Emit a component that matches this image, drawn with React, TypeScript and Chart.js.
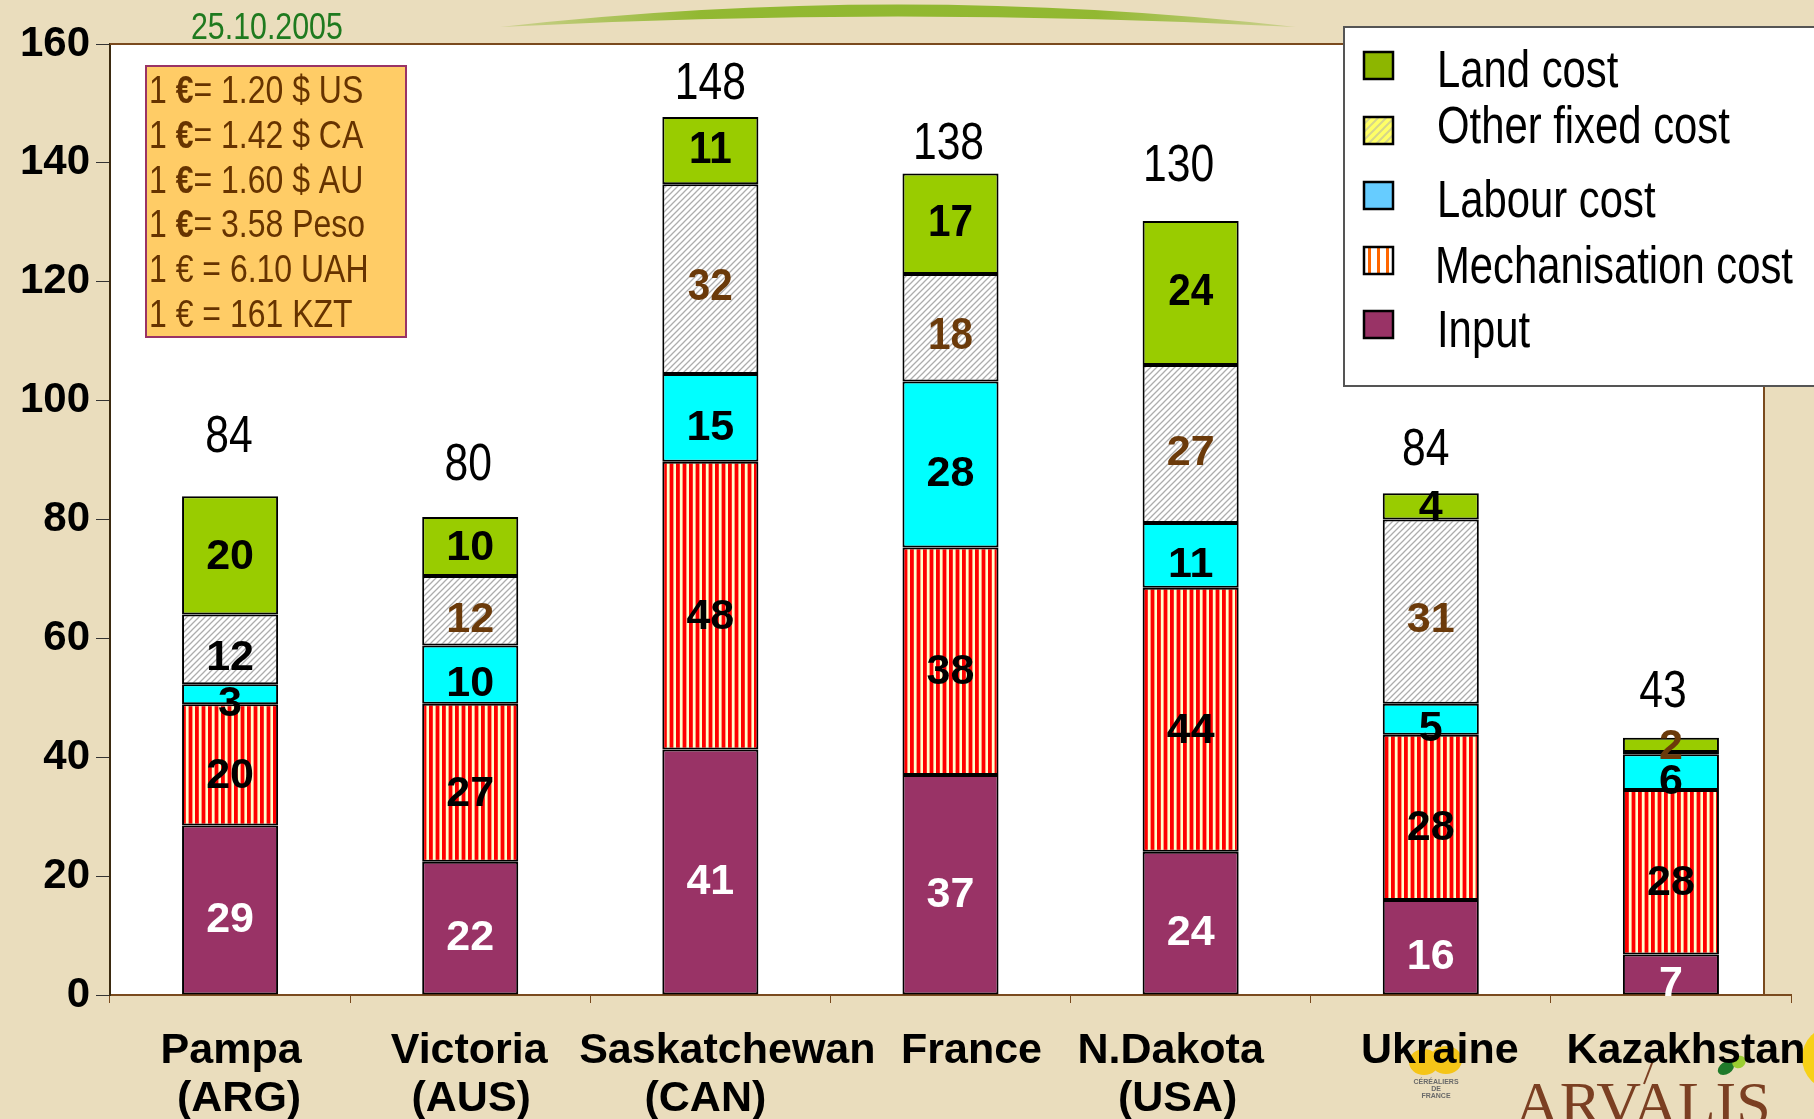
import React, { useEffect, useRef } from "react";
import { Chart, registerables } from "chart.js";

Chart.register(...registerables);

// ---------------- DATA ----------------
const categories: string[][] = [
  ["Pampa", "(ARG)"],
  ["Victoria", "(AUS)"],
  ["Saskatchewan", "(CAN)"],
  ["France"],
  ["N.Dakota", "(USA)"],
  ["Ukraine"],
  ["Kazakhstan"],
];
const inputCost = [28.5, 22.4, 41.3, 37.0, 24.1, 16.0, 6.8];
const mechanisationCost = [20.4, 26.6, 48.4, 38.3, 44.4, 27.8, 27.7];
const labourCost = [3.4, 9.8, 14.8, 27.9, 10.9, 5.2, 6.0];
const otherFixedCost = [11.7, 11.7, 31.9, 18.1, 26.6, 31.0, 0.4];
const landCost = [19.9, 9.9, 11.3, 16.9, 24.2, 4.4, 2.4];
const totalLabels = ["84", "80", "148", "138", "130", "84", "43"];
const seriesNames = ["Input", "Mechanisation cost", "Labour cost", "Other fixed cost", "Land cost"];
const legendOrder = ["Land cost", "Other fixed cost", "Labour cost", "Mechanisation cost", "Input"];
const yMin = 0;
const yMax = 160;
const yStep = 20;
const dateLabel = "25.10.2005";
const exchangeRates = [
  { text: "1 €= 1.20 $ US", boldEuro: true },
  { text: "1 €= 1.42 $ CA", boldEuro: true },
  { text: "1 €= 1.60 $ AU", boldEuro: true },
  { text: "1 €= 3.58 Peso", boldEuro: true },
  { text: "1 € = 6.10 UAH", boldEuro: false },
  { text: "1 € = 161 KZT", boldEuro: false },
];

// ---------------- STYLE / LAYOUT ----------------
const W = 1814;
const H = 1119;
const SANS = '"Liberation Sans", Arial, sans-serif';
const NARROW_SCALE = 0.82;
const BEIGE = "#EADDBD";
const BROWN_LINE = "#7A4A1E";
const LABEL_BROWN = "#6B3A0A";
// vertical nudge of segment labels per dataset (input, mech, labour, other, land)
const segLabelDy = [10, 11, 10, 9, 2];
// per-bar placement of total labels: [dx, distance above bar top]
const totalLabelPlacement = [
  [-1, 59], [-2, 51], [0, 32], [-2, 29], [-12, 54], [-5, 43], [-8, 45],
];
// per-category x shift of the category label lines [line1, line2]
const categoryLabelShift = [
  [1, 9], [-1, 1], [17, -5], [21, 0], [-20, -13], [9, 0], [15, 0],
];

function fillNarrow(
  ctx: CanvasRenderingContext2D,
  text: string,
  x: number,
  y: number,
  font: string,
  align: CanvasTextAlign,
  sx: number = NARROW_SCALE
) {
  ctx.save();
  ctx.font = font;
  ctx.textAlign = align;
  ctx.translate(x, y);
  ctx.scale(sx, 1);
  ctx.fillText(text, 0, 0);
  ctx.restore();
}
function narrowWidth(ctx: CanvasRenderingContext2D, text: string, font: string) {
  ctx.save();
  ctx.font = font;
  const w = ctx.measureText(text).width * NARROW_SCALE;
  ctx.restore();
  return w;
}

function stripePattern(c1: string, w1: number, c2: string, w2: number, reps: number) {
  const period = w1 + w2;
  const cv = document.createElement("canvas");
  cv.width = Math.round(period * reps);
  cv.height = 4;
  const g = cv.getContext("2d")!;
  g.fillStyle = c2;
  g.fillRect(0, 0, cv.width, 4);
  g.fillStyle = c1;
  for (let k = 0; k < reps; k++) g.fillRect(k * period, 0, w1, 4);
  return g.createPattern(cv, "repeat")!;
}

function hatchPattern(bg: string, line: string, size: number, lw: number) {
  const cv = document.createElement("canvas");
  cv.width = size;
  cv.height = size;
  const g = cv.getContext("2d")!;
  g.fillStyle = bg;
  g.fillRect(0, 0, size, size);
  g.strokeStyle = line;
  g.lineWidth = lw;
  g.beginPath();
  g.moveTo(-1, size + 1);
  g.lineTo(size + 1, -1);
  g.moveTo(-1, 1);
  g.lineTo(1, -1);
  g.moveTo(size - 1, size + 1);
  g.lineTo(size + 1, size - 1);
  g.stroke();
  return g.createPattern(cv, "repeat")!;
}

function segLabelColor(di: number, i: number) {
  if (di === 0) return "#FFFFFF";
  if (di === 3) return i === 0 ? "#000000" : LABEL_BROWN;
  if (di === 4) return i === 6 ? LABEL_BROWN : "#000000";
  return "#000000";
}
function segLabelNarrow(di: number, i: number) {
  if (di === 4) return i >= 2 && i <= 4;
  if (di === 3) return i === 2 || i === 3;
  return false;
}

export default function App() {
  const ref = useRef<HTMLCanvasElement>(null);

  useEffect(() => {
    document.body.style.margin = "0";
    document.body.style.overflow = "hidden";
    const canvas = ref.current!;

    const mechPat = stripePattern("#FF0000", 3.8, "#FFFFCC", 2.8, 2);
    const otherPat = hatchPattern("#FFFFFF", "#ADADAD", 6, 1.3);
    const legendOtherPat = hatchPattern("#FFFF66", "#D6D68A", 8, 2);
    const legendMechPat = stripePattern("#FF6600", 3, "#FFFFFF", 6, 1);

    const fills = ["#993366", mechPat, "#00FFFF", otherPat, "#99CC00"];
    const values = [inputCost, mechanisationCost, labourCost, otherFixedCost, landCost];
    const legendFills: Record<string, any> = {
      "Land cost": "#8DB600",
      "Other fixed cost": legendOtherPat,
      "Labour cost": "#66CCFF",
      "Mechanisation cost": legendMechPat,
      Input: "#993366",
    };

    const decorPlugin = {
      id: "decor",
      beforeDraw(chart: any) {
        const ctx = chart.ctx as CanvasRenderingContext2D;
        const ca = chart.chartArea;
        ctx.save();
        ctx.fillStyle = BEIGE;
        ctx.fillRect(0, 0, W, H);
        ctx.fillStyle = "#FFFFFF";
        ctx.fillRect(ca.left, ca.top, ca.right - 27 - ca.left, ca.bottom - ca.top);

        // logos at bottom right
        ctx.fillStyle = "#F5C518";
        ctx.beginPath();
        ctx.ellipse(1424, 1062, 15, 13, 0, 0, Math.PI * 2);
        ctx.ellipse(1446, 1060, 16, 14, 0, 0, Math.PI * 2);
        ctx.fill();
        ctx.fillStyle = "#6a6a6a";
        ctx.font = `bold 7px ${SANS}`;
        ctx.textAlign = "center";
        ctx.fillText("CÉRÉALIERS", 1436, 1084);
        ctx.fillText("DE", 1436, 1091);
        ctx.fillText("FRANCE", 1436, 1098);

        ctx.fillStyle = "#7B3F22";
        ctx.font = `62px "Liberation Serif", serif`;
        ctx.textAlign = "left";
        ctx.textBaseline = "alphabetic";
        ctx.fillText("ARVALIS", 1515, 1124);
        ctx.strokeStyle = "#7B3F22";
        ctx.lineWidth = 2;
        ctx.beginPath();
        ctx.moveTo(1644, 1084);
        ctx.lineTo(1654, 1058);
        ctx.stroke();
        ctx.fillStyle = "#1F7A2A";
        ctx.beginPath();
        ctx.ellipse(1726, 1068, 9, 6, -0.6, 0, Math.PI * 2);
        ctx.fill();
        ctx.fillStyle = "#9ACD32";
        ctx.beginPath();
        ctx.ellipse(1739, 1062, 7, 6, -0.6, 0, Math.PI * 2);
        ctx.fill();
        ctx.fillStyle = "#F7D117";
        ctx.beginPath();
        ctx.arc(1834, 1058, 32, 0, Math.PI * 2);
        ctx.fill();
        ctx.restore();
      },
      afterDatasetsDraw(chart: any) {
        const ctx = chart.ctx as CanvasRenderingContext2D;
        ctx.save();
        ctx.textBaseline = "middle";
        chart.data.datasets.forEach((ds: any, di: number) => {
          const meta = chart.getDatasetMeta(di);
          meta.data.forEach((bar: any, i: number) => {
            const v = ds.data[i] as number;
            if (v < 1) return;
            const p = bar.getProps(["x", "y", "base"], true);
            const narrow = segLabelNarrow(di, i);
            const dy = narrow && di === 4 ? 0 : segLabelDy[di];
            const cy = (p.y + p.base) / 2 + dy;
            ctx.fillStyle = segLabelColor(di, i);
            if (narrow) {
              fillNarrow(ctx, String(Math.round(v)), p.x, cy, `bold 44px ${SANS}`, "center", 0.92);
            } else {
              ctx.font = `bold 43px ${SANS}`;
              ctx.textAlign = "center";
              ctx.fillText(String(Math.round(v)), p.x, cy);
            }
          });
        });
        const lastMeta = chart.getDatasetMeta(chart.data.datasets.length - 1);
        ctx.fillStyle = "#000000";
        lastMeta.data.forEach((bar: any, i: number) => {
          const p = bar.getProps(["x", "y"], true);
          const [dx, dy] = totalLabelPlacement[i];
          fillNarrow(ctx, totalLabels[i], p.x + dx, p.y - dy, `52px ${SANS}`, "center");
        });
        ctx.restore();
      },
      afterDraw(chart: any) {
        const ctx = chart.ctx as CanvasRenderingContext2D;
        const ca = chart.chartArea;
        ctx.save();
        // plot frame top and right
        ctx.strokeStyle = BROWN_LINE;
        ctx.lineWidth = 2;
        ctx.beginPath();
        ctx.moveTo(ca.left, ca.top);
        ctx.lineTo(ca.right - 27, ca.top);
        ctx.moveTo(ca.right - 27, ca.top);
        ctx.lineTo(ca.right - 27, ca.bottom);
        ctx.stroke();

        // category labels
        const xs = chart.scales.x;
        ctx.fillStyle = "#000000";
        ctx.font = `bold 43px ${SANS}`;
        ctx.textAlign = "center";
        ctx.textBaseline = "alphabetic";
        categories.forEach((lines, i) => {
          const cx = xs.getPixelForValue(i);
          lines.forEach((line, k) => {
            ctx.fillText(line, cx + categoryLabelShift[i][k], 1063 + k * 48);
          });
        });

        // swoosh
        const grad = ctx.createLinearGradient(500, 0, 1296, 0);
        grad.addColorStop(0, "rgba(141,182,42,0.3)");
        grad.addColorStop(0.25, "rgba(141,182,42,0.95)");
        grad.addColorStop(0.75, "rgba(141,182,42,0.95)");
        grad.addColorStop(1, "rgba(141,182,42,0.3)");
        ctx.fillStyle = grad;
        ctx.beginPath();
        ctx.moveTo(500, 27);
        ctx.quadraticCurveTo(898, -18, 1296, 27);
        ctx.quadraticCurveTo(898, 6, 500, 27);
        ctx.fill();

        // date
        ctx.fillStyle = "#1F7A1F";
        ctx.textBaseline = "alphabetic";
        fillNarrow(ctx, dateLabel, 191, 39, `37px ${SANS}`, "left");

        // exchange-rate box
        ctx.fillStyle = "#FFCC66";
        ctx.fillRect(146, 66, 260, 271);
        ctx.strokeStyle = "#993366";
        ctx.lineWidth = 2;
        ctx.strokeRect(146, 66, 260, 271);
        ctx.fillStyle = "#663300";
        exchangeRates.forEach((r, k) => {
          const y = 103 + k * 44.8;
          const idx = r.text.indexOf("€");
          const a = r.text.slice(0, idx);
          const b = r.text.slice(idx + 1);
          const fN = `39px ${SANS}`;
          const fE = `${r.boldEuro ? "bold " : ""}39px ${SANS}`;
          let x = 149;
          fillNarrow(ctx, a, x, y, fN, "left");
          x += narrowWidth(ctx, a, fN);
          fillNarrow(ctx, "€", x, y, fE, "left");
          x += narrowWidth(ctx, "€", fE);
          fillNarrow(ctx, b, x, y, fN, "left");
        });

        // legend
        ctx.fillStyle = "#FFFFFF";
        ctx.fillRect(1344, 27, 480, 359);
        ctx.strokeStyle = "#555555";
        ctx.lineWidth = 2;
        ctx.strokeRect(1344, 27, 480, 359);
        const markerTops = [52, 117, 182, 247, 311];
        const baselines = [87, 143, 217, 283, 347];
        legendOrder.forEach((name, k) => {
          ctx.fillStyle = legendFills[name];
          ctx.fillRect(1364, markerTops[k], 29, 27);
          ctx.strokeStyle = "#000000";
          ctx.lineWidth = 2.5;
          ctx.strokeRect(1364, markerTops[k], 29, 27);
          ctx.fillStyle = "#000000";
          fillNarrow(ctx, name, name === "Mechanisation cost" ? 1435 : 1437, baselines[k], `51px ${SANS}`, "left");
        });
        ctx.restore();
      },
    };

    const chart = new Chart(canvas, {
      type: "bar",
      data: {
        labels: categories.map((l) => l.join(" ")),
        datasets: seriesNames.map((name, di) => ({
          label: name,
          data: values[di],
          backgroundColor: fills[di] as any,
          borderColor: "#000000",
          borderWidth: 2,
          borderSkipped: false,
          barPercentage: 0.4,
          categoryPercentage: 1,
        })),
      },
      options: {
        animation: false,
        responsive: false,
        devicePixelRatio: 1,
        layout: { padding: { top: 44, right: 23, bottom: 0, left: 0 } },
        plugins: {
          legend: { display: false },
          tooltip: { enabled: false },
        },
        scales: {
          x: {
            stacked: true,
            offset: true,
            grid: {
              display: true,
              drawOnChartArea: false,
              drawTicks: true,
              tickLength: 8,
              color: BROWN_LINE,
              offset: true,
            },
            border: { color: BROWN_LINE, width: 2 },
            ticks: {
              color: "rgba(0,0,0,0)",
              font: { family: SANS, size: 10 },
              maxRotation: 0,
              minRotation: 0,
              autoSkip: false,
            },
            afterFit: (s: any) => {
              s.height = 124;
            },
          },
          y: {
            stacked: true,
            min: yMin,
            max: yMax,
            ticks: {
              stepSize: yStep,
              color: "#000000",
              font: { family: SANS, size: 42, weight: "bold" },
              padding: 6,
            },
            grid: {
              drawOnChartArea: false,
              drawTicks: true,
              tickLength: 14,
              color: "#333333",
            },
            border: { color: "#3B2A10", width: 2 },
            afterFit: (s: any) => {
              s.width = 110;
            },
          },
        },
      },
      plugins: [decorPlugin],
    } as any);

    return () => chart.destroy();
  }, []);

  return (
    <div style={{ width: W, height: H }}>
      <canvas ref={ref} width={W} height={H} style={{ display: "block", width: W, height: H }} />
    </div>
  );
}
